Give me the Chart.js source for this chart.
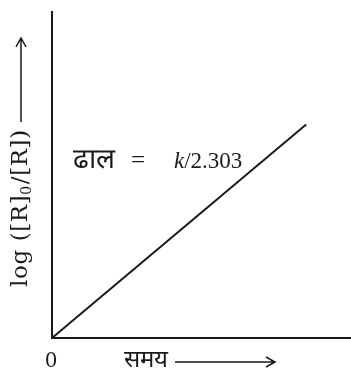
<!DOCTYPE html>
<html>
<head>
<meta charset="utf-8">
<script src="https://cdn.jsdelivr.net/npm/chart.js@4/dist/chart.umd.min.js"></script>
<style>
html, body { margin: 0; padding: 0; background: #fff; }
#wrap { width: 351px; height: 370px; position: relative; }
</style>
</head>
<body>
<div id="wrap"><canvas id="rate__graph"></canvas></div>
<script>
// first order reaction: log([R]0/[R]) vs time, straight line through origin

const timeVals = [0, 8.5];
const logVals = [0, 6.55];
const xTickLabels = ['0'];
const xTitle = 'समय';
const yTitleParts = ['log ([R]', '0', '/[R])'];
const slopeParts = ['ढाल', '=', 'k', '/2.303'];

const ink = '#1a1a1a';
const serif = '"Liberation Serif", "Times New Roman", serif';
const wideSerif = '"DejaVu Serif", serif';

const points = timeVals.map((t, i) => ({x: t, y: logVals[i]}));

const textPlugin = {
  id: 'textPlugin',
  afterDraw(chart) {
    const ctx = chart.ctx;
    const area = chart.chartArea;
    const xs = chart.scales.x;
    ctx.save();
    ctx.fillStyle = ink;
    ctx.strokeStyle = ink;
    ctx.lineWidth = 1.5;
    ctx.textBaseline = 'alphabetic';

    // tick label at origin
    ctx.font = '20px ' + wideSerif;
    ctx.textAlign = 'center';
    ctx.fillText(xTickLabels[0], xs.getPixelForValue(0) - 1, area.bottom + 29);

    // x title + arrow
    ctx.textAlign = 'left';
    ctx.font = '24px ' + serif;
    ctx.fillText(xTitle, area.left + 72, area.bottom + 29);
    let ay = area.bottom + 24;
    ctx.beginPath();
    ctx.moveTo(area.left + 123, ay);
    ctx.lineTo(area.left + 223, ay);
    ctx.moveTo(area.left + 214, ay - 5);
    ctx.lineTo(area.left + 223, ay);
    ctx.lineTo(area.left + 214, ay + 5);
    ctx.stroke();

    // y title (rotated) with subscript
    ctx.save();
    ctx.translate(27, 287);
    ctx.rotate(-Math.PI / 2);
    ctx.letterSpacing = '0.6px';
    ctx.font = '23px ' + wideSerif;
    let cx = 0;
    ctx.fillText(yTitleParts[0], cx, 0);
    cx += ctx.measureText(yTitleParts[0]).width;
    ctx.font = '14px ' + wideSerif;
    ctx.fillText(yTitleParts[1], cx, 4);
    cx += ctx.measureText(yTitleParts[1]).width + 1;
    ctx.font = '23px ' + wideSerif;
    ctx.fillText(yTitleParts[2], cx, 0);
    ctx.restore();

    // y arrow
    let ax = 21;
    ctx.beginPath();
    ctx.moveTo(ax, 122);
    ctx.lineTo(ax, 38);
    ctx.moveTo(ax - 5, 47);
    ctx.lineTo(ax, 38);
    ctx.lineTo(ax + 5, 47);
    ctx.stroke();

    // slope label
    let sx = area.left + 21, sy = area.top + 156;
    ctx.font = '28px ' + serif;
    ctx.fillText(slopeParts[0], sx, sy);
    ctx.font = '25px ' + serif;
    ctx.fillText(slopeParts[1], area.left + 79, sy);
    ctx.font = 'italic 23px ' + serif;
    sx = area.left + 122;
    ctx.fillText(slopeParts[2], sx, sy);
    sx += ctx.measureText(slopeParts[2]).width;
    ctx.font = '23px ' + serif;
    ctx.fillText(slopeParts[3], sx, sy);

    ctx.restore();
  }
};

const config = {
  type: 'line',
  data: {
    datasets: [{
      label: '',
      data: points,
      borderColor: ink,
      borderWidth: 2,
      pointRadius: 0,
      fill: false,
      tension: 0,
      clip: false
    }]
  },
  options: {
    responsive: true,
    maintainAspectRatio: false,
    animation: false,
    events: [],
    layout: { padding: { left: 52, top: 12, right: 0, bottom: 32 } },
    scales: {
      x: {
        type: 'linear', min: 0, max: 10,
        grid: { display: false },
        ticks: { display: false },
        border: { display: true, color: ink, width: 2 },
        afterFit(s) { s.height = 0; }
      },
      y: {
        type: 'linear', min: 0, max: 10,
        grid: { display: false },
        ticks: { display: false },
        border: { display: true, color: ink, width: 2 },
        afterFit(s) { s.width = 0; }
      }
    },
    plugins: {
      legend: { display: false },
      tooltip: { enabled: false }
    }
  },
  plugins: [textPlugin]
};

const myChart = new Chart(document.getElementById('rate__graph'), config);
</script>
</body>
</html>
